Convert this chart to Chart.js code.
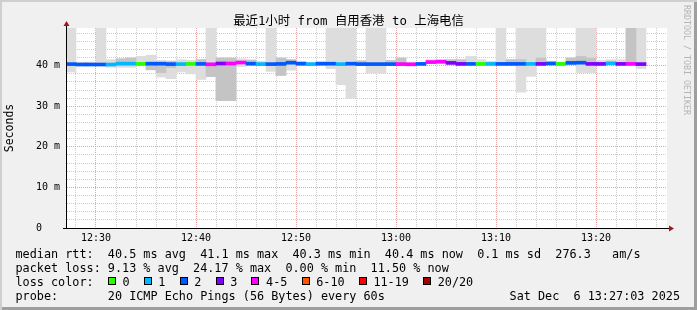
<!DOCTYPE html>
<html>
<head>
<meta charset="utf-8">
<script src="https://cdn.jsdelivr.net/npm/chart.js@4.4.1/dist/chart.umd.min.js"></script>
<style>
  html, body { margin: 0; padding: 0; }
  #frame {
    position: relative;
    width: 697px;
    height: 310px;
    background: #f0f0f0;
    box-shadow: inset 2px 2px 0 #cfcfcf, inset -3px -3px 0 #9e9e9e;
    overflow: hidden;
  }
  #smokeChart { position: absolute; left: 0; top: 0; }
  .ln {
    position: absolute;
    left: 15.5px;
    white-space: pre;
    font: 11.8px/14px "DejaVu Sans Mono", monospace;
    color: #000;
  }
  .box {
    display: inline-block;
    width: 8px;
    height: 8px;
    box-sizing: border-box;
    border: 1px solid #000;
    margin-right: 6.6px;
    vertical-align: 1px;
  }
  #wm {
    position: absolute;
    left: 682px;
    top: 5px;
    writing-mode: vertical-rl;
    font: 8.3px/10px "DejaVu Sans Mono", monospace;
    color: #b4b4b4;
  }
</style>
</head>
<body>
<div id="frame">
  <canvas id="smokeChart" width="697" height="250"></canvas>
  <div id="wm">RRDTOOL / TOBI OETIKER</div>
  <div class="ln" style="top:247px">median rtt:  40.5 ms avg  41.1 ms max  40.3 ms min  40.4 ms now  0.1 ms sd  276.3   am/s</div>
  <div class="ln" style="top:261px">packet loss: 9.13 % avg  24.17 % max  0.00 % min  11.50 % now</div>
  <div class="ln" id="lossLine" style="top:275px">loss color:  </div>
  <div class="ln" style="top:289px">probe:       20 ICMP Echo Pings (56 Bytes) every 60s</div>
  <div class="ln" style="top:289px; left:auto; right:17px">Sat Dec  6 13:27:03 2025</div>
</div>
<script>
// loss colour legend
const lossLabels = ["0", "1", "2", "3", "4-5", "6-10", "11-19", "20/20"];
const lossColors = ["#26ff00", "#00b8ff", "#0059ff", "#7e00ff", "#ff00ff", "#ff5500", "#ff0000", "#a10000"];

// one sample per minute, centre of the step, in minutes after 12:00
const minutes = [
  27.5, 28.5, 29.5, 30.5, 31.5, 32.5, 33.5, 34.5, 35.5, 36.5,
  37.5, 38.5, 39.5, 40.5, 41.5, 42.5, 43.5, 44.5, 45.5, 46.5,
  47.5, 48.5, 49.5, 50.5, 51.5, 52.5, 53.5, 54.5, 55.5, 56.5,
  57.5, 58.5, 59.5, 60.5, 61.5, 62.5, 63.5, 64.5, 65.5, 66.5,
  67.5, 68.5, 69.5, 70.5, 71.5, 72.5, 73.5, 74.5, 75.5, 76.5,
  77.5, 78.5, 79.5, 80.5, 81.5, 82.5, 83.5, 84.5
];

// median rtt (ms)
const medians = [
  40.4, 40.3, 40.3, 40.3, 40.3, 40.5, 40.5, 40.45, 40.5, 40.5,
  40.4, 40.4, 40.45, 40.45, 40.35, 40.55, 40.55, 40.8, 40.5, 40.4,
  40.4, 40.45, 40.75, 40.5, 40.4, 40.5, 40.5, 40.4, 40.5, 40.4,
  40.4, 40.4, 40.4, 40.4, 40.35, 40.45, 40.9, 41.0, 40.7, 40.45,
  40.45, 40.45, 40.45, 40.45, 40.45, 40.45, 40.45, 40.45, 40.55, 40.45,
  40.7, 40.75, 40.45, 40.45, 40.6, 40.45, 40.45, 40.4
];

// index into lossColors
const lossLevel = [
  2, 2, 2, 2, 1, 1, 1, 0, 2, 2,
  2, 1, 0, 2, 4, 3, 4, 4, 2, 1,
  2, 2, 2, 2, 1, 2, 2, 1, 2, 2,
  2, 2, 2, 4, 4, 2, 4, 4, 3, 3,
  2, 0, 1, 2, 2, 2, 1, 3, 2, 0,
  2, 2, 3, 3, 1, 3, 4, 3
];

// smoke: full spread of the pings (ms)
const smokeLo = [
  38.45, 40.1, 40.1, 40.1, 39.6, 39.6, 39.6, 40.1, 39.0, 37.2,
  36.8, 38.45, 38.0, 36.6, 37.3, 31.4, 31.4, 39.8, 40.2, 40.2,
  38.6, 37.6, 38.9, 40.2, 40.2, 40.2, 39.3, 35.3, 32.0, 40.1,
  38.2, 38.2, 40.2, 40.2, 40.1, 40.2, 40.5, 40.5, 40.3, 40.1,
  40.2, 40.2, 40.2, 40.2, 40.2, 33.5, 37.4, 40.2, 40.3, 40.2,
  40.3, 38.3, 38.3, 40.2, 40.3, 40.2, 40.2, 39.3
];
const smokeHi = [
  50, 40.9, 40.9, 50, 41.5, 41.7, 41.9, 42.3, 42.6, 41.3,
  41.2, 41.5, 41.3, 41.5, 50, 41.9, 41.9, 41.7, 41.4, 41.1,
  50, 41.9, 41.5, 41.1, 40.8, 41.0, 50, 50, 50, 41.2,
  50, 50, 41.3, 41.9, 40.9, 40.8, 41.5, 41.5, 41.5, 41.5,
  42.3, 41.5, 41.1, 50, 41.5, 50, 50, 50, 41.1, 40.8,
  41.9, 50, 50, 41.3, 41.5, 41.5, 50, 50
];

// denser inner smoke (ms), null where it is not visible
const coreLo = [
  null, null, null, null, null, 40.3, 40.3, null, 39.0, 38.3,
  39.5, null, null, 40.4, 37.3, 31.4, 31.4, null, 40.5, null,
  null, 37.6, 40.5, null, null, null, null, null, null, 40.4,
  null, null, 40.4, 40.4, null, null, null, null, 40.5, 40.4,
  null, null, null, null, 40.4, 40.4, null, 40.4, null, null,
  40.6, 40.6, 40.4, null, null, null, 40.4, null
];
const coreHi = [
  null, null, null, null, null, 41.7, 41.9, null, 40.9, 40.9,
  41.0, null, null, 41.5, 40.4, 41.9, 41.9, null, 41.4, null,
  null, 41.9, 41.5, null, null, null, null, null, null, 41.2,
  null, null, 41.3, 41.9, null, null, null, null, 41.5, 41.5,
  null, null, null, null, 41.5, 41.5, null, 41.9, null, null,
  41.9, 42.3, 41.9, null, null, null, 50, null
];

const yTickLabels = ["0   ", "10 m", "20 m", "30 m", "40 m"];
const xTickLabels = ["12:30", "12:40", "12:50", "13:00", "13:10", "13:20"];

const titleText = "最近1小时 from 自用香港 to 上海电信";
const mono = "'DejaVu Sans Mono', 'Noto Sans CJK SC', monospace";

// loss colour legend line
const lossLine = document.getElementById("lossLine");
lossLabels.forEach((lab, i) => {
  const box = document.createElement("span");
  box.className = "box";
  box.style.background = lossColors[i];
  lossLine.appendChild(box);
  lossLine.appendChild(document.createTextNode(lab + "  "));
});

function floatBars(lo, hi) {
  const out = [];
  for (let i = 0; i < minutes.length; i++) {
    if (lo[i] == null) continue;
    out.push({ x: minutes[i], y: [lo[i], hi[i]] });
  }
  return out;
}

const medianBars = minutes.map((m, i) => ({ x: m, y: [medians[i] - 0.37, medians[i] + 0.37] }));

const minorGrid = "#cccccc";
const majorGrid = "#e9a0a0";

const plotBack = {
  id: "plotBack",
  beforeDraw(chart) {
    const a = chart.chartArea;
    const ctx = chart.ctx;
    ctx.save();
    ctx.fillStyle = "#ffffff";
    ctx.fillRect(a.left, a.top, a.right - a.left, a.bottom - a.top);
    ctx.restore();
  },
  afterDraw(chart) {
    const a = chart.chartArea;
    const ctx = chart.ctx;
    ctx.save();
    // axis extensions
    ctx.strokeStyle = "#000";
    ctx.lineWidth = 1;
    ctx.beginPath();
    ctx.moveTo(a.left - 4, a.bottom + 0.5);
    ctx.lineTo(a.right + 2, a.bottom + 0.5);
    ctx.moveTo(a.left - 0.5, a.top - 3);
    ctx.lineTo(a.left - 0.5, a.bottom);
    ctx.stroke();
    // arrows
    ctx.fillStyle = "#a01818";
    ctx.beginPath();
    ctx.moveTo(a.left - 0.5, a.top - 7);
    ctx.lineTo(a.left - 3.5, a.top - 2);
    ctx.lineTo(a.left + 2.5, a.top - 2);
    ctx.closePath();
    ctx.fill();
    ctx.beginPath();
    ctx.moveTo(a.right + 7, a.bottom + 0.5);
    ctx.lineTo(a.right + 2, a.bottom - 2.5);
    ctx.lineTo(a.right + 2, a.bottom + 3.5);
    ctx.closePath();
    ctx.fill();
    ctx.restore();
  }
};

const barStyle = {
  grouped: false,
  barPercentage: 1,
  categoryPercentage: 1,
  borderWidth: 0
};

new Chart(document.getElementById("smokeChart"), {
  type: "bar",
  data: {
    datasets: [
      Object.assign({ data: medianBars, backgroundColor: lossLevel.map((l) => lossColors[l]), order: 0 }, barStyle),
      Object.assign({ data: floatBars(coreLo, coreHi), backgroundColor: "#c4c4c4", order: 1 }, barStyle),
      Object.assign({ data: floatBars(smokeLo, smokeHi), backgroundColor: "#dddddd", order: 2 }, barStyle)
    ]
  },
  options: {
    responsive: false,
    animation: false,
    events: [],
    layout: { padding: 0 },
    plugins: {
      legend: { display: false },
      tooltip: { enabled: false },
      title: {
        display: true,
        text: titleText,
        color: "#000",
        font: { family: mono, size: 12.4, weight: "normal", lineHeight: "13px" },
        padding: { top: 15, bottom: 0 }
      }
    },
    scales: {
      x: {
        type: "linear",
        min: 27.1,
        max: 87.1,
        offset: false,
        z: 1,
        afterFit: (s) => { s.height = 22; },
        afterBuildTicks: (s) => {
          s.ticks = [];
          for (let v = 28; v <= 86; v += 2) s.ticks.push({ value: v });
        },
        grid: {
          offset: false,
          drawTicks: false,
          color: (c) => (c.tick && c.tick.value % 10 === 0 ? majorGrid : minorGrid)
        },
        border: { display: false, dash: [1, 1] },
        ticks: {
          autoSkip: false,
          maxRotation: 0,
          padding: 4,
          color: "#000",
          font: { family: mono, size: 10 },
          callback: (v) => (v % 10 === 0 ? xTickLabels[(v - 30) / 10] : "")
        }
      },
      y: {
        min: 0,
        max: 49.3,
        z: 1,
        afterFit: (s) => { s.width = 67; },
        afterBuildTicks: (s) => {
          s.ticks = [];
          for (let v = 0; v <= 48; v += 2) s.ticks.push({ value: v });
        },
        grid: {
          drawTicks: false,
          color: (c) => {
            if (!c.tick || c.tick.value === 0) return "rgba(0,0,0,0)";
            return c.tick.value % 10 === 0 ? majorGrid : minorGrid;
          }
        },
        border: { display: false, dash: [1, 1] },
        title: {
          display: true,
          text: "Seconds",
          color: "#000",
          font: { family: mono, size: 11.5 },
          padding: { top: 3.5, bottom: 0 }
        },
        ticks: {
          autoSkip: false,
          padding: 7,
          color: "#000",
          font: { family: mono, size: 10 },
          callback: (v) => (v % 10 === 0 ? yTickLabels[v / 10] : "")
        }
      },
      // empty right-hand strip so the plot stops where the reference's does
      yRight: {
        position: "right",
        min: 0,
        max: 1,
        afterFit: (s) => { s.width = 30; },
        grid: { display: false },
        border: { display: false },
        ticks: { display: false }
      }
    }
  },
  plugins: [plotBack]
});
</script>
</body>
</html>
